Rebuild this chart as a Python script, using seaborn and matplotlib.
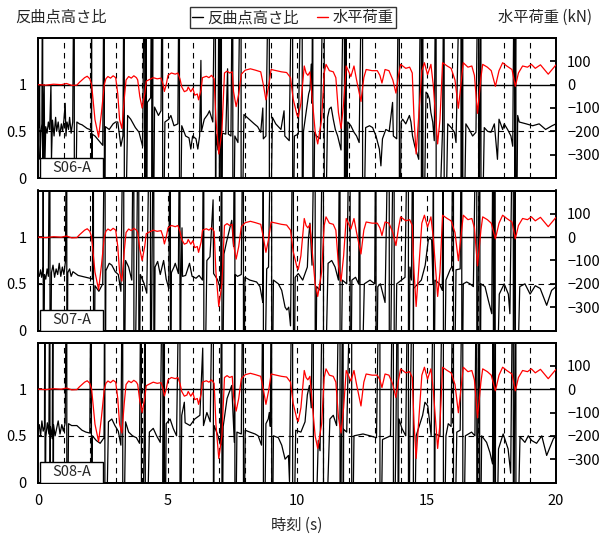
import numpy as np
import pandas as pd
import matplotlib
matplotlib.use("Agg")
import matplotlib.pyplot as plt
from matplotlib.lines import Line2D
from matplotlib.patches import Rectangle
import seaborn as sns

sns.set_theme(style="white")
plt.rcParams['font.family'] = ['Noto Sans CJK JP', 'DejaVu Sans']
plt.rcParams['axes.unicode_minus'] = True

# horizontal load (kN), same loading for the three specimens
t_load = [0.0, 0.3, 0.6, 0.9, 1.1, 1.3, 1.5, 1.6, 1.8, 1.9, 2.0, 2.07, 2.2, 2.34, 2.45, 2.56,
          2.62, 2.7, 2.8, 2.9, 3.0, 3.08, 3.15, 3.24, 3.33, 3.4, 3.5, 3.6, 3.7, 3.8, 3.85, 3.93,
          4.02, 4.12, 4.18, 4.3, 4.45, 4.6, 4.75, 4.82, 4.88, 4.95, 5.02, 5.15, 5.3, 5.4, 5.48,
          5.55, 5.65, 5.75, 5.8, 5.9, 5.98, 6.05, 6.15, 6.2, 6.3, 6.35, 6.5, 6.6, 6.7, 6.8, 6.87,
          6.98, 7.1, 7.2, 7.3, 7.4, 7.5, 7.55, 7.65, 7.75, 7.85, 8.0, 8.2, 8.4, 8.6, 8.7, 8.8,
          8.9, 9.0, 9.2, 9.4, 9.6, 9.75, 9.85, 10.0, 10.05, 10.15, 10.28, 10.35, 10.42, 10.5,
          10.58, 10.7, 10.8, 10.95, 11.05, 11.12, 11.25, 11.4, 11.5, 11.6, 11.7, 11.8, 11.9,
          11.98, 12.08, 12.2, 12.3, 12.47, 12.58, 12.67, 12.9, 13.1, 13.2, 13.28, 13.4, 13.55,
          13.7, 13.82, 13.92, 14.0, 14.2, 14.35, 14.45, 14.52, 14.6, 14.72, 14.82, 14.92, 15.04,
          15.17, 15.26, 15.43, 15.52, 15.62, 15.8, 15.95, 16.1, 16.23, 16.35, 16.42, 16.6, 16.75,
          16.85, 16.97, 17.1, 17.17, 17.35, 17.5, 17.66, 17.8, 17.94, 18.1, 18.3, 18.43, 18.55,
          18.71, 18.9, 19.05, 19.2, 19.4, 19.7, 20.0]
load_kN = [0, -2, 2, 0, 5, -3, -2, 10, 30, 36, 25, 0, -150, -225, -120, 0,
           25, 35, 28, 38, 30, -40, -150, -188, -60, 20, 35, 28, 38, 30, 20, -50,
           -100, -40, 15, 22, 30, 25, 28, 5, -29, 0, 40, 50, 45, 50, 25,
           -10, -30, -25, -10, -30, -15, -45, -40, -65, -20, 30, 36, 30, 40, 25, -150,
           -297, -200, 50, 58, 50, 55, -30, -94, -40, 45, 62, 68, 62, 55, 0, -65,
           -10, 65, 60, 55, 52, 30, -60, -130, -138, -80, 80, 50, 40, 55,
           -50, -200, -254, -150, 50, 87, 60, 55, 30, -120, -188, -80, 80,
           60, 35, 80, 20, -72, 30, 65, 60, 60, 40, 7, 65, 60,
           20, -36, 40, 87, 70, 75, 50, -150, -297, -100, 60, 94, 43,
           87, 0, -254, -150, 94, 80, 70, 20, -101, 20, 94, 75, 80,
           40, -123, 30, 87, 75, 60, -7, 60, 94, 80, 65, -7, 50,
           80, 75, 87, 70, 85, 45, 85]

# inflection point height ratio, S06-A
t_s06 = [0.0, 0.04, 0.06, 0.08, 0.12, 0.15, 0.2, 0.24, 0.26, 0.3, 0.35, 0.4, 0.45, 0.5, 0.52,
         0.56, 0.62, 0.68, 0.72, 0.78, 0.84, 0.9, 0.95, 1.0, 1.05, 1.08, 1.12, 1.18, 1.22, 1.28,
         1.34, 1.5, 1.6, 1.7, 1.8, 1.9, 2.0, 2.06, 2.09, 2.2, 2.35, 2.5, 2.6, 2.75, 2.9, 3.0,
         3.08, 3.2, 3.28, 3.46, 3.58, 3.76, 3.9, 4.04, 4.22, 4.35, 4.5, 4.65, 4.75, 4.9, 5.05,
         5.13, 5.25, 5.4, 5.55, 5.7, 5.83, 5.9, 5.97, 6.1, 6.17, 6.24, 6.29, 6.31, 6.42, 6.55,
         6.62, 6.75, 6.87, 6.95, 7.12, 7.25, 7.32, 7.35, 7.45, 7.6, 7.72, 7.95, 8.15, 8.35, 8.48,
         8.6, 8.68, 8.7, 8.8, 9.05, 9.18, 9.38, 9.5, 9.53, 9.7, 9.9, 10.05, 10.25, 10.35, 10.45,
         10.5, 10.55, 10.58, 10.68, 10.75, 10.9, 11.18, 11.25, 11.32, 11.4, 11.48, 11.57, 11.7,
         11.96, 12.08, 12.2, 12.3, 12.4, 12.65, 12.8, 12.92, 13.05, 13.18, 13.24, 13.3, 13.43,
         13.56, 13.69, 13.72, 13.85, 14.02, 14.08, 14.2, 14.34, 14.4, 14.46, 14.55, 14.7, 14.98,
         15.04, 15.11, 15.17, 15.24, 15.3, 15.62, 15.82, 15.95, 16.08, 16.14, 16.52, 16.65, 16.78,
         16.91, 17.23, 17.36, 17.49, 17.62, 17.74, 17.8, 17.94, 18.0, 18.13, 18.26, 18.33, 18.52,
         18.58, 18.85, 19.1, 19.35, 19.6, 19.85, 20.0]
r_s06 = [0.52, 0.55, 1.0, 0.2, 0.5, 0.58, 0.55, 1.0, 0.1, 0.55, 0.48, 0.6, 0.52, 1.0, 0.2,
         0.62, 0.45, 0.65, 0.5, 0.6, 0.45, 0.58, 0.5, 0.62, 0.8, 0.45, 0.6, 0.52, 0.65, 0.48,
         0.6, 0.6, 0.58, 0.57, 0.55, 0.53, 0.52, 0.5, 0.47, 0.45, 0.4, 0.35, 0.55, 0.52, 0.58, 0.6,
         0.6, 0.34, 0.45, 0.67, 0.63, 0.54, 0.49, 0.34, 0.81, 0.86, 0.76, 0.67, 0.72, 0.6, 0.63,
         0.67, 0.56, 0.58, 0.56, 0.45, 0.43, 0.31, 0.45, 0.42, 0.31, 0.45, 1.26, 0.5, 0.63, 0.68,
         0.72, 0.6, 0.47, 0.3, 0.48, 0.47, 1.17, 0.47, 0.45, 0.45, 0.38, 0.68, 0.63, 0.58, 0.55,
         0.49, 0.75, 0.42, 0.45, 0.65, 0.58, 0.52, 0.72, 0.45, 0.4, 0.45, 0.47, 0.5, 0.7, 0.9,
         0.95, 1.22, 0.8, 0.49, 0.45, 0.42, 0.65, 0.74, 0.76, 0.63, 0.52, 0.45, 0.3,
         0.6, 0.56, 0.49, 0.45, 0.38, 0.54, 0.56, 0.54, 0.45, 0.31, 0.13, 0.42, 0.52,
         0.5, 0.81, 0.45, 0.42, 0.6, 0.63, 0.58, 0.67, 0.6, 0.45, 0.34, 0.2, 0.92,
         0.9, 0.85, 0.7, 0.6, 0.4, 0.52, 0.58, 0.54, 0.49, 0.38, 0.58, 0.52, 0.45,
         0.49, 0.54, 0.5, 0.49, 0.58, 0.2, 0.63, 0.52, 0.58, 0.52, 0.45, 0.34, 0.67,
         0.6, 0.58, 0.56, 0.58, 0.52, 0.56, 0.58]
spikes_s06 = [0.18, 1.40, 2.07, 2.56, 3.33, 4.12, 4.18, 4.40, 4.43, 4.81, 5.46, 6.85, 7.00,
              7.08, 7.52, 7.84, 8.93, 9.83, 10.20, 10.61, 11.05, 11.83, 11.90, 12.53, 13.95,
              14.80, 14.86, 15.37, 15.68, 16.33, 16.40, 17.01, 17.10, 18.40, 18.45]

# S07-A
t_s07 = [0.0, 0.05, 0.1, 0.14, 0.2, 0.25, 0.3, 0.35, 0.4, 0.52, 0.58, 0.64, 0.7, 0.76, 0.82,
         0.88, 0.94, 1.0, 1.06, 1.15, 1.22, 1.28, 1.35, 1.45, 1.55, 1.7, 1.85, 2.0, 2.1, 2.2,
         2.35, 2.5, 2.62, 2.75, 2.85, 2.98, 3.1, 3.2, 3.38, 3.5, 3.62, 3.8, 3.95, 4.1, 4.2, 4.4,
         4.52, 4.62, 4.72, 4.85, 4.95, 5.05, 5.15, 5.25, 5.3, 5.42, 5.52, 5.56, 5.58, 5.7, 5.85,
         5.95, 6.1, 6.22, 6.35, 6.52, 6.64, 6.76, 6.78, 6.92, 7.05, 7.18, 7.28, 7.48, 7.55, 7.62,
         7.7, 7.85, 7.99, 8.18, 8.44, 8.57, 8.68, 8.83, 8.9, 9.09, 9.28, 9.41, 9.54, 9.61, 9.68,
         9.75, 9.93, 10.05, 10.22, 10.4, 10.44, 10.5, 10.58, 10.76, 10.9, 11.2, 11.34, 11.47,
         11.6, 11.75, 11.92, 12.12, 12.26, 12.38, 12.6, 12.82, 13.0, 13.12, 13.22, 13.4, 13.85,
         14.17, 14.36, 14.42, 14.5, 14.8, 14.95, 15.07, 15.13, 15.2, 15.25, 15.33, 15.5, 15.61,
         15.75, 15.91, 15.97, 16.14, 16.3, 16.42, 16.55, 16.68, 16.81, 17.1, 17.26, 17.39, 17.52,
         17.81, 18.0, 18.16, 18.22, 18.6, 18.8, 19.0, 19.2, 19.39, 19.64, 19.83, 20.0]
r_s07 = [0.62, 0.58, 0.65, 0.57, 0.68, 0.6, 0.55, 0.66, 0.58, 0.62, 0.7, 0.57, 0.66, 0.6, 0.72,
         0.58, 0.68, 0.6, 0.74, 0.62, 0.66, 0.58, 0.63, 0.61, 0.59, 0.58, 0.57, 0.56, 0.55, 0.48,
         0.42, 0.5, 0.64, 0.72, 0.7, 0.63, 0.6, 0.42, 0.75, 0.68, 0.54, 0.5, 0.6, 0.5, 0.4, 0.64,
         0.68, 0.74, 0.6, 0.75, 0.55, 0.45, 0.62, 0.68, 0.72, 0.61, 0.5, 1.1, 0.58, 0.59, 0.72,
         0.58, 0.56, 0.59, 0.54, 0.75, 0.79, 1.4, 0.61, 0.55, 0.45, 0.82, 0.95, 1.18, 0.9, 0.6,
         0.58, 0.6, 0.57, 0.54, 0.52, 0.47, 0.3, 0.66, 0.68, 0.54, 0.5, 0.43, 0.25, 0.22, 0.25,
         0.05, 0.57, 0.61, 0.54, 0.68, 0.97, 1.15, 0.7, 0.47, 0.43, 0.72, 0.75, 0.68,
         0.54, 0.54, 0.5, 0.54, 0.57, 0.5, 0.5, 0.54, 0.5, 0.47, 0.5, 0.3, 0.5,
         0.57, 0.68, 0.54, 0.45, 0.54, 0.7, 0.97, 0.99, 0.97, 0.5, 0.54, 0.5, 0.43,
         0.54, 0.65, 0.68, 0.65, 0.66, 0.5, 0.52, 0.5, 0.47, 0.5, 0.47, 0.32, 0.18,
         0.39, 0.5, 0.39, 0.18, 0.47, 0.5, 0.39, 0.48, 0.45, 0.27, 0.43, 0.47]
spikes_s07 = [0.20, 0.46, 1.11, 2.14, 2.59, 3.31, 3.70, 3.89, 4.34, 4.47, 5.11, 5.48, 6.40,
              7.10, 7.60, 7.93, 8.70, 9.02, 9.86, 10.70, 11.02, 11.66, 12.05, 12.43, 13.05,
              13.56, 13.75, 14.30, 14.49, 15.27, 15.65, 16.04, 16.36, 16.94, 17.06, 17.58,
              17.65, 18.35, 18.43]

# S08-A
t_s08 = [0.0, 0.05, 0.1, 0.15, 0.2, 0.25, 0.3, 0.36, 0.42, 0.48, 0.55, 0.6, 0.66, 0.72, 0.78,
         0.85, 0.92, 0.98, 1.05, 1.18, 1.3, 1.5, 1.7, 1.85, 2.0, 2.1, 2.25, 2.4, 2.55, 2.72,
         2.85, 2.97, 3.1, 3.2, 3.38, 3.5, 3.65, 3.8, 3.92, 4.1, 4.3, 4.45, 4.58, 4.72, 4.95, 5.1,
         5.22, 5.35, 5.55, 5.65, 5.68, 5.87, 6.05, 6.25, 6.36, 6.39, 6.52, 6.65, 6.8, 6.95, 7.05,
         7.15, 7.3, 7.48, 7.58, 7.68, 7.85, 8.0, 8.18, 8.38, 8.5, 8.63, 8.8, 8.89, 8.93, 8.97,
         9.09, 9.28, 9.41, 9.54, 9.67, 9.71, 9.95, 10.15, 10.31, 10.4, 10.48, 10.55, 10.82, 10.89,
         11.27, 11.4, 11.53, 11.8, 11.92, 12.2, 12.55, 12.82, 13.07, 13.3, 13.61, 13.82, 13.94,
         14.05, 14.2, 14.36, 14.6, 14.85, 14.94, 15.05, 15.18, 15.33, 15.52, 15.75, 15.84, 15.95,
         16.17, 16.3, 16.5, 16.74, 16.87, 17.13, 17.32, 17.45, 17.55, 17.78, 17.96, 18.15, 18.25,
         18.61, 18.8, 18.93, 19.06, 19.25, 19.45, 19.64, 19.9, 20.0]
r_s08 = [0.55, 0.62, 0.5, 0.66, 0.55, 0.6, 0.48, 0.64, 0.52, 0.6, 0.47, 0.62, 0.5, 0.58, 0.66,
         0.52, 0.62, 0.55, 0.64, 0.63, 0.61, 0.61, 0.56, 0.54, 0.53, 0.5, 0.45, 0.42, 0.48, 0.65,
         0.68, 0.61, 0.55, 0.4, 0.65, 0.54, 0.5, 0.48, 0.42, 0.45, 0.54, 0.58, 0.5, 0.43, 0.63, 0.68,
         0.58, 0.5, 0.72, 0.86, 0.64, 0.61, 0.68, 0.72, 1.44, 0.61, 0.75, 0.65, 0.61, 0.5, 0.4,
         0.6, 0.9, 1.04, 0.43, 0.54, 0.52, 0.56, 0.54, 0.52, 0.5, 0.4, 0.63, 0.68, 0.75, 0.6,
         0.5, 0.48, 0.4, 0.25, 0.29, 0.01, 0.56, 0.54, 0.65, 0.94, 1.04, 0.8, 0.45, 0.34,
         0.68, 0.72, 0.61, 0.57, 0.54, 0.5, 0.52, 0.5, 0.48, 0.46, 0.5, 0.54, 0.68,
         0.58, 0.5, 0.54, 0.5, 0.72, 0.86, 0.82, 0.5, 0.52, 0.5, 0.5, 0.63, 0.6,
         0.54, 0.56, 0.5, 0.54, 0.5, 0.5, 0.43, 0.32, 0.2, 0.36, 0.52, 0.36, 0.1,
         0.49, 0.43, 0.5, 0.45, 0.42, 0.5, 0.29, 0.47, 0.5]
spikes_s08 = [0.27, 0.46, 0.58, 1.11, 2.06, 2.58, 3.27, 3.99, 4.14, 4.82, 4.88, 5.48, 6.77,
              7.10, 7.60, 7.93, 8.70, 9.02, 9.83, 10.63, 11.02, 11.66, 11.78, 12.11, 13.20,
              13.72, 13.90, 14.30, 14.49, 15.30, 15.65, 16.04, 16.40, 16.94, 17.05, 17.58,
              17.66, 18.35, 18.45]

specimens = ['S06-A', 'S07-A', 'S08-A']
ratio_t = [t_s06, t_s07, t_s08]
ratio_r = [r_s06, r_s07, r_s08]
ratio_spikes = [spikes_s06, spikes_s07, spikes_s08]

# the ratio diverges where the load passes zero: draw those as off-scale jumps
OFF_TOP, OFF_BOTTOM = 3.0, -1.5


def ratio_frame(t, r, spikes):
    pts = list(zip(t, r))
    for s in spikes:
        pts.append((s, OFF_TOP))
        pts.append((s + 0.004, OFF_BOTTOM))
    pts.sort(key=lambda p: p[0])
    return pd.DataFrame(pts, columns=['t', 'ratio'])


df_load = pd.DataFrame({'t': t_load, 'load': load_kN})

fig = plt.figure(figsize=(6.01, 5.37), dpi=100)
bottoms = [1 - 178 / 537, 1 - 330.5 / 537, 1 - 482.5 / 537]
left, width, height = 38 / 601, 518 / 601, 140 / 537

for i, name in enumerate(specimens):
    ax = fig.add_axes([left, bottoms[i], width, height])
    ax2 = ax.twinx()

    for x in range(1, 20):
        ax.axvline(x, color='black', lw=0.8, ls=(0, (5, 4)), zorder=1)
    ax.axhline(1.0, color='black', lw=1.0, zorder=1)
    ax.axhline(0.5, color='black', lw=0.8, ls=(0, (5, 4)), zorder=1)

    df_r = ratio_frame(ratio_t[i], ratio_r[i], ratio_spikes[i])
    sns.lineplot(data=df_r, x='t', y='ratio', estimator=None, sort=False,
                 color='black', lw=0.9, ax=ax, zorder=2)
    sns.lineplot(data=df_load, x='t', y='load', estimator=None, sort=False,
                 color='red', lw=0.9, ax=ax2, zorder=3)

    ax.set_xlim(0, 20)
    ax.set_ylim(0, 1.5)
    ax2.set_ylim(-400, 200)
    ax.set_yticks([0, 0.5, 1])
    ax.set_yticklabels(['0', '0.5', '1'])
    ax2.set_yticks([100, 0, -100, -200, -300])
    ax.set_xticks([0, 5, 10, 15, 20])
    ax.set_xlabel('')
    ax.set_ylabel('')
    ax2.set_ylabel('')
    ax.tick_params(axis='both', direction='in', length=3, labelsize=10.5, pad=8,
                   colors='black')
    ax2.tick_params(axis='y', direction='in', length=4, labelsize=10.5, pad=8,
                    colors='black')
    if i < 2:
        ax.tick_params(axis='x', labelbottom=False)
    for a in (ax, ax2):
        for sp in a.spines.values():
            sp.set_color('black')
            sp.set_linewidth(1.3)

    ax2.add_patch(Rectangle((0.004, 0.0), 0.122, 0.143, transform=ax2.transAxes,
                            facecolor='white', edgecolor='black', lw=1.0, zorder=5))
    ax2.text(0.065, 0.072, name, transform=ax2.transAxes, ha='center', va='center',
             fontsize=10.5, zorder=6)

fig.text(15 / 601, 1 - 17 / 537, '反曲点高さ比', ha='left', va='center', fontsize=11)
fig.text(592 / 601, 1 - 17 / 537, '水平荷重 (kN)', ha='right', va='center', fontsize=11)
fig.text(297 / 601, 1 - 525 / 537, '時刻 (s)', ha='center', va='center', fontsize=11)

handles = [Line2D([], [], color='black', lw=1.0), Line2D([], [], color='red', lw=1.0)]
leg = fig.legend(handles, ['反曲点高さ比', '水平荷重'], loc='center',
                 bbox_to_anchor=(0.487, 1 - 17.5 / 537), ncol=2, fontsize=11,
                 frameon=True, fancybox=False, handlelength=0.7, handletextpad=0.3,
                 columnspacing=1.2, borderpad=0.15, borderaxespad=0)
leg.get_frame().set_edgecolor('black')
leg.get_frame().set_linewidth(1.0)

fig.savefig('out.png', dpi=100)
